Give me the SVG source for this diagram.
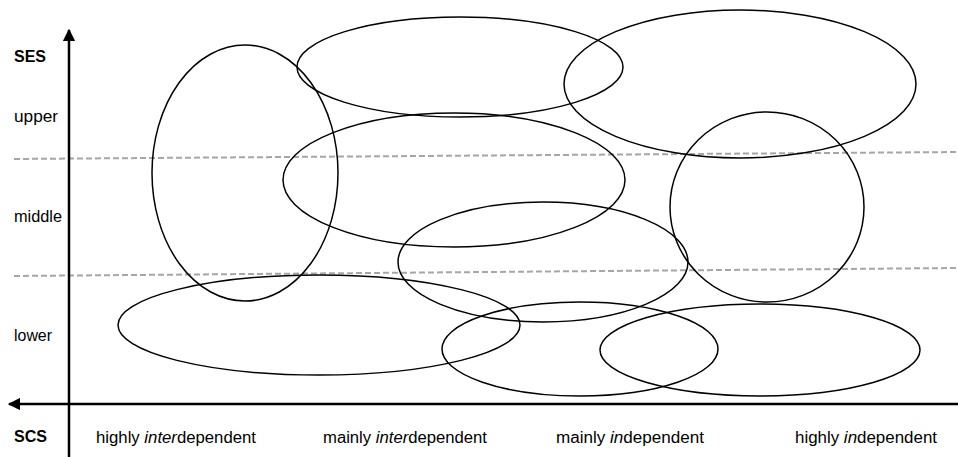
<svg xmlns="http://www.w3.org/2000/svg" width="958" height="457" viewBox="0 0 958 457">
<style>
text{font-family:"Liberation Sans",Arial,sans-serif;font-size:16px;fill:#000}
.b{font-weight:bold}
.e{fill:none;stroke:#000;stroke-width:1.5}
.d{stroke:#a6a6a6;stroke-width:2;stroke-dasharray:6,3;fill:none}
.ax{stroke:#000;stroke-width:2.5;fill:none}
</style>
<defs>
<marker id="ah" viewBox="0 0 10 10" refX="9" refY="5" markerWidth="5" markerHeight="5" orient="auto" markerUnits="strokeWidth">
<path d="M0,0 L10,5 L0,10 z" fill="#000"/>
</marker>
</defs>
<g id="grid">
<line class="d" x1="14" y1="159" x2="958" y2="152"/>
<line class="d" x1="14" y1="276" x2="958" y2="268"/>
</g>
<g id="axes">
<line class="ax" x1="69" y1="457" x2="69" y2="30" marker-end="url(#ah)"/>
<line class="ax" x1="958" y1="404" x2="9" y2="404" marker-end="url(#ah)"/>
</g>
<g id="ellipses">
<ellipse id="e1" class="e" cx="245" cy="173" rx="93" ry="128"/>
<ellipse id="e2" class="e" cx="460" cy="67" rx="163" ry="50"/>
<ellipse id="e3" class="e" cx="740" cy="84" rx="176" ry="74"/>
<ellipse id="e4" class="e" cx="454" cy="180" rx="171" ry="67"/>
<ellipse id="e5" class="e" cx="767" cy="207" rx="97" ry="95"/>
<ellipse id="e6" class="e" cx="543" cy="262" rx="145" ry="60"/>
<ellipse id="e7" class="e" cx="319" cy="325" rx="201" ry="50"/>
<ellipse id="e8" class="e" cx="580" cy="349" rx="138" ry="47"/>
<ellipse id="e9" class="e" cx="760" cy="350" rx="160" ry="46"/>
</g>
<g id="labels">
<text class="b" x="14" y="62" textLength="32" lengthAdjust="spacingAndGlyphs">SES</text>
<text x="14" y="122" textLength="44" lengthAdjust="spacingAndGlyphs">upper</text>
<text x="14" y="222" textLength="48" lengthAdjust="spacingAndGlyphs">middle</text>
<text x="14" y="341" textLength="38" lengthAdjust="spacingAndGlyphs">lower</text>
<text class="b" x="14" y="442" textLength="33" lengthAdjust="spacingAndGlyphs">SCS</text>
<text x="96" y="443" textLength="160" lengthAdjust="spacingAndGlyphs">highly <tspan font-style="italic">inter</tspan>dependent</text>
<text x="323" y="443" textLength="164" lengthAdjust="spacingAndGlyphs">mainly <tspan font-style="italic">inter</tspan>dependent</text>
<text x="556" y="443" textLength="148" lengthAdjust="spacingAndGlyphs">mainly <tspan font-style="italic">in</tspan>dependent</text>
<text x="795" y="443" textLength="142" lengthAdjust="spacingAndGlyphs">highly <tspan font-style="italic">in</tspan>dependent</text>
</g>
</svg>
